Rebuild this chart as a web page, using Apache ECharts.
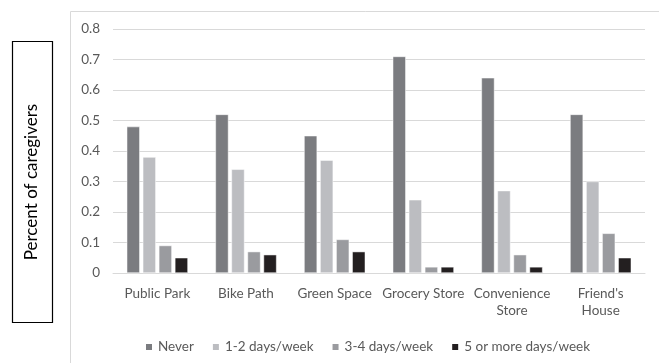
<!DOCTYPE html>
<html><head><meta charset="utf-8">
<script src="https://cdn.jsdelivr.net/npm/echarts@6/dist/echarts.min.js"></script>
<style>html,body{margin:0;padding:0;background:#fff}#c{width:659px;height:363px}</style>
</head><body><div id="c"></div>
<script>
const categories = ['Public Park','Bike Path','Green Space','Grocery Store','Convenience\nStore',"Friend's\nHouse"];
const seriesNames = ['Never','1-2 days/week','3-4 days/week','5 or more days/week'];
const never = [0.48,0.52,0.45,0.71,0.64,0.52];
const oneTwo = [0.38,0.34,0.37,0.24,0.27,0.30];
const threeFour = [0.09,0.07,0.11,0.02,0.06,0.13];
const fivePlus = [0.05,0.06,0.07,0.02,0.02,0.05];
const colors = ['#7b7c80','#bcbdc1','#9a9b9f','#231f20'];
const values = [never, oneTwo, threeFour, fivePlus];
const font = 'Lato';
const chart = echarts.init(document.getElementById('c'));
chart.setOption({
  animation:false,
  textStyle:{fontFamily:font},
  graphic:[
    {type:'rect',shape:{x:70.5,y:11.5,width:700,height:400},style:{fill:'none',stroke:'#d9d9d9',lineWidth:1},z:-1},
    {type:'rect',shape:{x:12.5,y:41.5,width:40,height:281},style:{fill:'#fff',stroke:'#000',lineWidth:1.2}},
    {type:'text',x:32,y:182,rotation:Math.PI/2,style:{text:'Percent of caregivers',fontFamily:font,fontSize:17,fill:'#000',align:'center',verticalAlign:'middle'}}
  ],
  grid:{left:113,right:14,top:29,bottom:90,containLabel:false},
  legend:{top:335,left:139,itemWidth:8,itemHeight:8,itemGap:17,icon:'rect',
    textStyle:{fontFamily:font,fontSize:13.5,color:'#595959'},data:seriesNames},
  xAxis:{type:'category',data:categories,
    axisLine:{lineStyle:{color:'#d9d9d9'}},axisTick:{show:false},
    axisLabel:{fontFamily:font,fontSize:13.5,color:'#595959',margin:12,lineHeight:17,interval:0}},
  yAxis:{type:'value',min:0,max:0.8,interval:0.1,
    axisLabel:{fontFamily:font,fontSize:13.5,color:'#595959',margin:13,formatter:v=>v===0?'0':v.toFixed(1)},
    splitLine:{lineStyle:{color:'#d9d9d9'}},axisLine:{show:false},axisTick:{show:false}},
  series: seriesNames.map((n,i)=>({name:n,type:'bar',data:values[i],barGap:'23%',barCategoryGap:'31%',
    itemStyle:{color:colors[i],borderColor:'#fff',borderWidth:0.5}}))
});
</script></body></html>
